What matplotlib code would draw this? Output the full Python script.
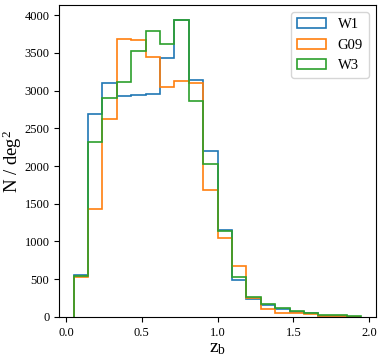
import numpy as np
import matplotlib
matplotlib.use("Agg")
import matplotlib.pyplot as plt

plt.rcParams["font.family"] = ["Liberation Serif", "DejaVu Serif"]
plt.rcParams["mathtext.fontset"] = "custom"
plt.rcParams["mathtext.rm"] = "Liberation Serif"
plt.rcParams["mathtext.it"] = "Liberation Serif:italic"

# 20 photo-z bins from 0.05 to 1.95
bin_edges = np.linspace(0.05, 1.95, 21)

w1 = [552, 2685, 3095, 2923, 2937, 2950, 3435, 3938, 3140, 2196,
      1147, 485, 234, 155, 98, 66, 45, 8, 6, 4]
g09 = [530, 1434, 2624, 3690, 3669, 3448, 3042, 3122, 3095, 1676,
       1045, 670, 250, 106, 53, 45, 36, 12, 7, 4]
w3 = [538, 2315, 2906, 3118, 3519, 3788, 3620, 3938, 2857, 2020,
      1134, 529, 257, 172, 111, 80, 53, 27, 18, 9]

series = [("W1", w1, "#1f77b4"), ("G09", g09, "#ff7f0e"), ("W3", w3, "#2ca02c")]

centers = 0.5 * (bin_edges[:-1] + bin_edges[1:])

fig, ax = plt.subplots(figsize=(3.82, 3.58), dpi=100)
for name, vals, col in series:
    ax.hist(centers, bins=bin_edges, weights=vals, histtype="step",
            color=col, linewidth=1.2, label=name)

ax.set_xticks([0.0, 0.5, 1.0, 1.5, 2.0])
ax.tick_params(labelsize=9)
ax.set_xlabel(r"z$_\mathrm{b}$", fontsize=14, labelpad=1)
ax.set_ylabel(r"N / deg$^2$", fontsize=13.5, labelpad=0)
ax.legend(loc="upper right", fontsize=10.5)

fig.subplots_adjust(left=0.155, right=0.984, top=0.986, bottom=0.115)
fig.savefig("out.png", dpi=100)
plt.close(fig)
